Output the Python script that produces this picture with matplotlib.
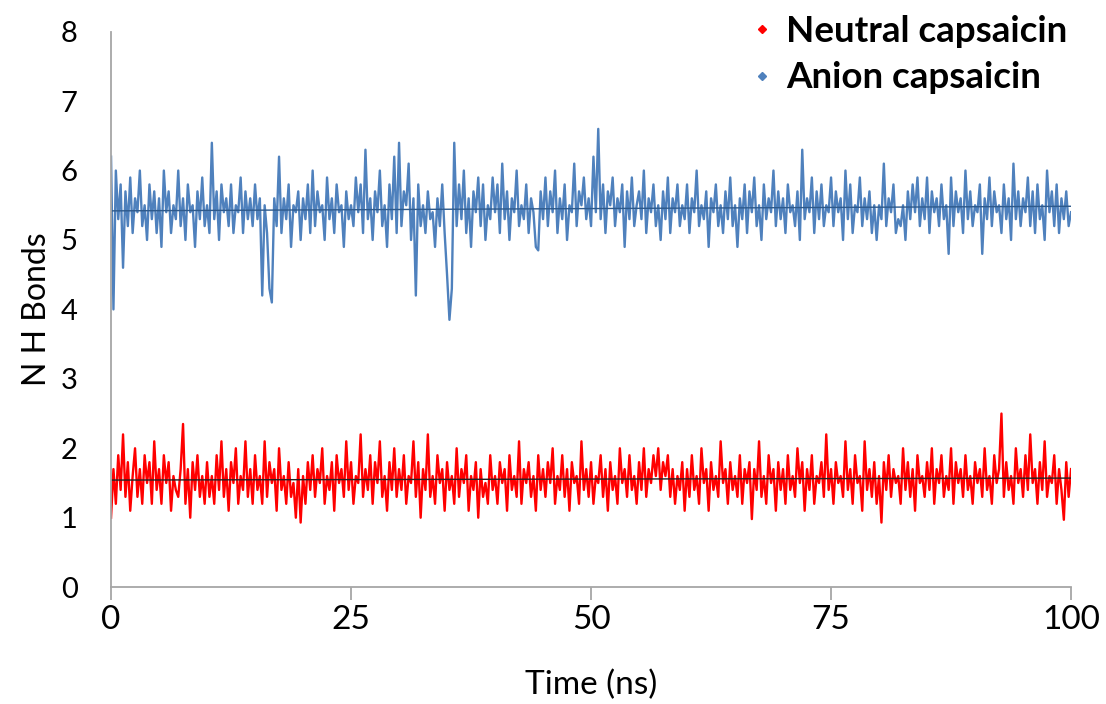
import numpy as np
import matplotlib
matplotlib.use("Agg")
import matplotlib.pyplot as plt
from matplotlib.lines import Line2D

# time axis: one value every 0.25 ns, 0..100 ns
time_step = 0.25

# N H bonds, anion capsaicin
anion = [
    6.2, 4.0, 6.0, 5.3, 5.8, 4.6, 5.7, 5.2, 5.9, 5.1, 5.6, 5.4, 6.0, 5.2, 5.5, 5.0, 5.8, 5.3, 5.7, 5.1,
    5.6, 4.9, 6.0, 5.4, 5.7, 5.1, 5.5, 5.3, 6.0, 5.2, 5.6, 5.0, 5.8, 5.4, 5.5, 4.9, 5.7, 5.3, 5.9, 5.2,
    5.5, 5.1, 6.4, 5.3, 5.7, 5.0, 5.8, 5.4, 5.6, 5.2, 5.8, 5.1, 5.5, 5.4, 5.9, 5.1, 5.7, 5.3, 5.6, 5.2,
    5.8, 5.3, 5.6, 4.2, 5.5, 5.1, 4.3, 4.1, 5.6, 5.2, 6.2, 5.1, 5.6, 5.3, 5.8, 4.9, 5.5, 5.4, 5.7, 5.0,
    5.6, 5.3, 5.8, 5.1, 6.0, 5.2, 5.7, 5.4, 5.5, 5.0, 5.9, 5.3, 5.6, 5.1, 5.8, 5.4, 5.5, 4.9, 5.7, 5.3,
    5.5, 5.2, 5.9, 5.4, 5.8, 5.1, 6.3, 5.3, 5.6, 5.0, 5.7, 5.4, 6.0, 5.2, 5.5, 4.9, 5.8, 5.3, 6.2, 5.1,
    6.4, 5.2, 5.7, 5.5, 6.1, 5.0, 5.6, 4.2, 5.8, 5.2, 5.5, 5.1, 5.7, 5.3, 5.4, 4.9, 5.6, 5.2, 5.8, 5.1,
    4.5, 3.85, 4.3, 6.4, 5.2, 5.8, 5.3, 6.0, 5.1, 5.6, 4.9, 5.7, 5.4, 5.9, 5.2, 5.8, 5.0, 5.5, 5.3, 5.9,
    5.4, 5.8, 5.1, 6.1, 5.3, 5.7, 5.0, 5.6, 5.4, 6.0, 5.2, 5.5, 5.3, 5.8, 5.1, 5.6, 5.4, 4.9, 4.85, 5.7,
    5.3, 5.9, 5.2, 5.7, 5.4, 6.0, 5.1, 5.6, 5.3, 5.8, 5.0, 5.5, 5.4, 6.1, 5.2, 5.7, 5.5, 5.9, 5.3, 5.6,
    5.2, 6.2, 5.4, 6.6, 5.3, 5.8, 5.1, 5.7, 5.5, 5.9, 5.2, 5.6, 5.4, 5.8, 4.9, 5.7, 5.3, 5.9, 5.2, 5.5,
    5.7, 5.3, 6.0, 5.1, 5.6, 5.4, 5.8, 5.2, 5.5, 5.0, 5.7, 5.3, 5.9, 5.1, 5.6, 5.4, 5.8, 5.2, 5.5, 5.3,
    5.8, 5.1, 5.6, 5.4, 6.0, 5.2, 5.5, 5.3, 5.7, 4.9, 5.6, 5.4, 5.8, 5.2, 5.5, 5.1, 5.7, 5.3, 5.9, 5.2,
    5.5, 4.9, 5.6, 5.3, 5.8, 5.1, 5.7, 5.4, 5.9, 5.2, 5.5, 5.0, 5.8, 5.3, 5.6, 5.4, 6.0, 5.2, 5.7, 5.3,
    5.6, 5.1, 5.8, 5.4, 5.5, 5.2, 5.7, 5.0, 6.3, 5.3, 5.6, 5.4, 5.9, 5.1, 5.7, 5.3, 5.8, 5.2, 5.5, 5.4,
    5.9, 5.2, 5.7, 5.4, 5.6, 5.0, 6.0, 5.3, 5.8, 5.1, 5.5, 5.4, 5.9, 5.2, 5.6, 5.3, 5.7, 5.1, 5.5, 5.0,
    5.5, 5.3, 6.1, 5.2, 5.6, 5.4, 5.8, 5.1, 5.3, 5.2, 5.5, 5.0, 5.7, 5.3, 5.8, 5.4, 5.9, 5.2, 5.6, 5.3,
    5.9, 5.1, 5.7, 5.4, 5.6, 5.2, 5.8, 5.3, 5.5, 4.8, 5.9, 5.2, 5.7, 5.4, 5.6, 5.1, 6.0, 5.3, 5.7, 5.2,
    5.5, 5.4, 5.8, 4.8, 5.6, 5.3, 5.9, 5.2, 5.7, 5.4, 5.5, 5.1, 5.8, 5.3, 5.6, 5.0, 6.1, 5.3, 5.7, 5.2,
    5.6, 5.4, 5.9, 5.2, 5.7, 5.1, 5.8, 5.3, 5.5, 5.0, 6.0, 5.4, 5.7, 5.2, 5.8, 5.1, 5.6, 5.3, 5.7, 5.2,
    5.4,
]

# N H bonds, neutral capsaicin
neutral = [
    1.0, 1.7, 1.2, 1.9, 1.4, 2.2, 1.3, 1.8, 1.1, 1.6, 2.0, 1.3, 1.7, 1.2, 1.9, 1.5, 1.8, 1.2, 2.1, 1.4,
    1.7, 1.2, 1.9, 1.5, 1.8, 1.1, 1.6, 1.4, 1.3, 1.7, 2.35, 1.2, 1.7, 1.0, 1.8, 1.4, 1.9, 1.3, 1.6, 1.2,
    1.8, 1.3, 1.6, 1.2, 1.9, 1.4, 2.1, 1.3, 1.7, 1.1, 1.8, 1.5, 2.0, 1.2, 1.6, 1.4, 2.1, 1.3, 1.7, 1.2,
    1.9, 1.4, 1.6, 1.2, 2.1, 1.3, 1.8, 1.5, 1.7, 1.1, 2.0, 1.4, 1.6, 1.2, 1.8, 1.3, 1.5, 1.0, 1.7, 0.93,
    1.6, 1.2, 1.8, 1.4, 1.9, 1.3, 1.7, 1.5, 2.0, 1.2, 1.6, 1.4, 1.8, 1.1, 1.9, 1.5, 1.7, 1.3, 2.1, 1.4,
    1.8, 1.2, 1.6, 1.5, 2.2, 1.3, 1.7, 1.4, 1.9, 1.2, 1.8, 1.5, 2.1, 1.3, 1.6, 1.1, 1.8, 1.4, 2.0, 1.3,
    1.7, 1.4, 1.9, 1.2, 1.6, 1.5, 2.1, 1.3, 1.8, 1.0, 1.7, 1.4, 2.2, 1.3, 1.6, 1.2, 1.9, 1.5, 1.7, 1.1,
    1.8, 1.4, 1.6, 1.2, 2.0, 1.3, 1.7, 1.5, 1.9, 1.1, 1.6, 1.4, 1.8, 1.0, 1.7, 1.3, 1.5, 1.2, 1.9, 1.4,
    1.6, 1.2, 1.8, 1.5, 1.7, 1.1, 1.9, 1.4, 1.6, 1.3, 2.1, 1.2, 1.7, 1.5, 1.8, 1.3, 1.6, 1.1, 1.9, 1.4,
    1.7, 1.3, 1.8, 1.5, 2.0, 1.2, 1.6, 1.4, 1.9, 1.3, 1.7, 1.1, 1.8, 1.5, 1.6, 1.2, 2.1, 1.4, 1.7, 1.3,
    1.8, 1.2, 1.6, 1.5, 1.9, 1.3, 1.7, 1.1, 1.8, 1.4, 1.6, 1.2, 2.0, 1.5, 1.7, 1.3, 1.9, 1.4, 1.6, 1.2,
    1.8, 1.4, 2.0, 1.3, 1.7, 1.5, 1.9, 1.6, 2.0, 1.4, 1.8, 1.6, 1.9, 1.3, 1.7, 1.2, 1.6, 1.4, 1.8, 1.1,
    1.7, 1.3, 1.9, 1.4, 1.6, 1.2, 2.0, 1.5, 1.7, 1.1, 1.8, 1.4, 1.6, 1.3, 2.1, 1.5, 1.7, 1.2, 1.8, 1.4,
    1.6, 1.3, 1.9, 1.2, 1.7, 1.5, 1.8, 0.98, 1.7, 1.4, 2.1, 1.3, 1.6, 1.2, 1.9, 1.5, 1.7, 1.1, 1.8, 1.4,
    1.7, 1.2, 1.9, 1.4, 1.6, 1.3, 2.0, 1.5, 1.8, 1.1, 1.7, 1.4, 1.9, 1.2, 1.6, 1.5, 1.8, 1.3, 2.2, 1.4,
    1.7, 1.2, 1.8, 1.5, 1.6, 1.3, 2.1, 1.4, 1.7, 1.2, 1.9, 1.5, 1.6, 1.1, 2.1, 1.4, 1.7, 1.3, 1.8, 1.2,
    1.6, 0.93, 1.8, 1.4, 1.9, 1.3, 1.7, 1.5, 1.6, 1.2, 2.0, 1.4, 1.8, 1.3, 1.7, 1.1, 1.9, 1.5, 1.6, 1.3,
    1.8, 1.4, 2.0, 1.2, 1.7, 1.5, 1.9, 1.3, 1.6, 1.4, 2.0, 1.2, 1.8, 1.5, 1.7, 1.3, 1.9, 1.4, 1.6, 1.2,
    1.8, 1.5, 1.7, 1.3, 2.0, 1.4, 1.6, 1.2, 1.9, 1.5, 1.7, 2.5, 1.3, 1.8, 1.4, 1.6, 1.2, 2.0, 1.5, 1.7,
    1.3, 1.9, 1.4, 2.2, 1.5, 1.7, 1.2, 1.8, 1.4, 2.1, 1.3, 1.6, 1.5, 1.9, 1.2, 1.7, 1.4, 0.97, 1.8, 1.3,
    1.7,
]

x_ticks = [0, 25, 50, 75, 100]
y_ticks = [0, 1, 2, 3, 4, 5, 6, 7, 8]

t = np.arange(len(anion)) * time_step
anion = np.array(anion)
neutral = np.array(neutral)

fig = plt.figure(figsize=(11.06, 7.04), dpi=100)
ax = fig.add_axes([0.1004, 0.166, 0.868, 0.789])

ax.plot(t, anion, color="#4F81BD", lw=1.7)
ax.plot(t, neutral, color="#FF0000", lw=1.7)

# linear trendlines (as in the Excel chart)
p = np.polyfit(t, anion, 1)
ax.plot(t, np.polyval(p, t), color="#2E5A8C", lw=1.0)
p = np.polyfit(t, neutral, 1)
ax.plot(t, np.polyval(p, t), color="#222222", lw=1.0)

ax.set_xlim(0, 100)
ax.set_ylim(0, 8)
ax.set_xticks(x_ticks)
ax.set_yticks(y_ticks)

for s in ["top", "right"]:
    ax.spines[s].set_visible(False)
for s in ["left", "bottom"]:
    ax.spines[s].set_color("#A6A6A6")
    ax.spines[s].set_linewidth(1.3)

ax.tick_params(axis="y", length=0, pad=24)
ax.tick_params(axis="x", length=9, width=1.3, color="#A6A6A6", pad=4)
for lab in ax.get_yticklabels():
    lab.set_fontfamily("Lato")
    lab.set_fontsize(21)
for lab in ax.get_xticklabels():
    lab.set_fontfamily("Lato")
    lab.set_fontsize(24)

ax.set_xlabel("Time (ns)", fontfamily="Lato", fontsize=24, labelpad=25)
ax.set_ylabel("N H Bonds", fontfamily="Lato", fontsize=23, labelpad=6)

handles = [
    Line2D([], [], color="#FF0000", marker="D", ms=4, ls="none"),
    Line2D([], [], color="#4F81BD", marker="D", ms=4, ls="none"),
]
fig.legend(handles, ["Neutral capsaicin", "Anion capsaicin"],
           loc="upper left", bbox_to_anchor=(0.646, 1.026), frameon=False,
           prop={"family": "Lato", "weight": "bold", "size": 26.5},
           handlelength=0.8, handletextpad=0.25, labelspacing=0.37)

fig.savefig("out.png", dpi=100)
